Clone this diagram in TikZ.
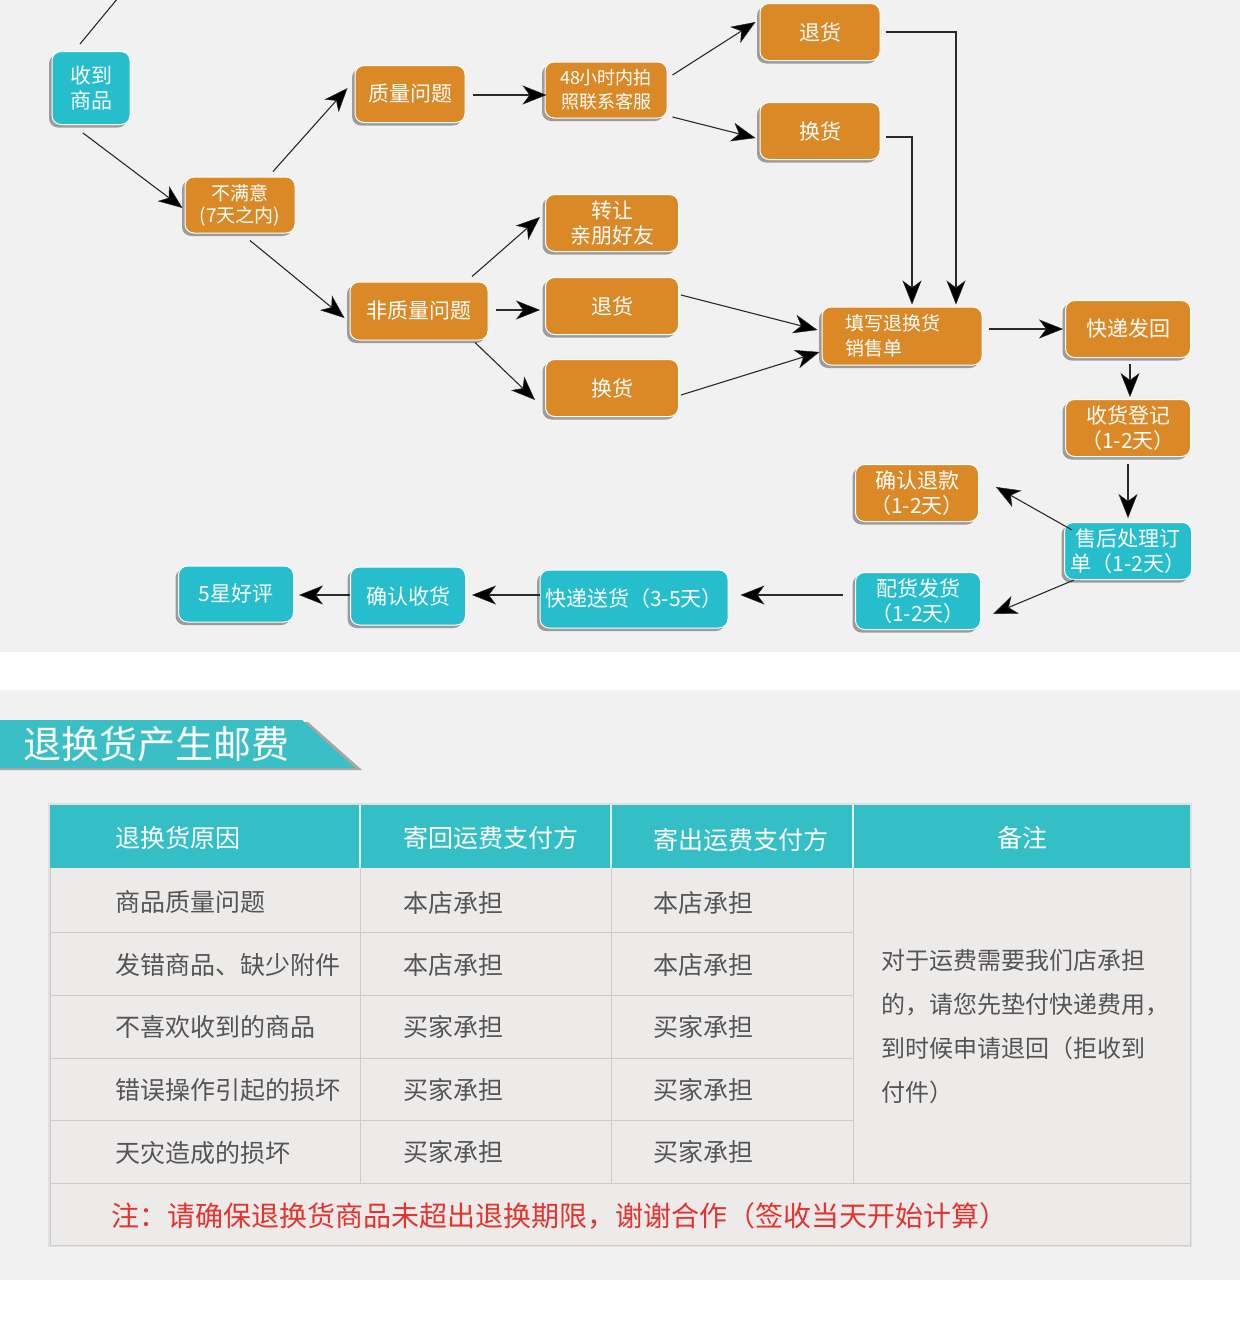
\documentclass[tikz,border=0pt]{standalone}
\usepackage{fontspec}
\setmainfont{Noto Sans CJK SC}
\usetikzlibrary{arrows.meta,shadows}
\definecolor{orangebox}{HTML}{DA8926}
\definecolor{cyanbox}{HTML}{26BECC}
\definecolor{hdrcol}{HTML}{34BEC6}
\definecolor{bannercol}{HTML}{3BBFC6}
\definecolor{bodycol}{HTML}{EDEAEA}
\definecolor{gridcol}{HTML}{CCCCCC}
\definecolor{txtgray}{HTML}{555555}
\definecolor{notered}{HTML}{E3342F}
\definecolor{panelcol}{HTML}{F1F1F1}
\definecolor{linecol}{HTML}{2A2A2A}
\begin{document}
\begin{tikzpicture}[x=1pt,y=-1pt,
  flowbox/.style={rounded corners=9pt, draw=white, line width=1pt, text=white,
    align=center, inner sep=2pt, minimum height=57pt,
    font=\fontsize{21}{25}\selectfont,
    drop shadow={shadow xshift=-3pt, shadow yshift=-3pt, fill=black, opacity=0.35}},
  obox/.style={flowbox, fill=orangebox},
  cbox/.style={flowbox, fill=cyanbox},
  arr/.style={draw=linecol, line width=1.1pt, -{Stealth[length=24pt,width=19pt,inset=7pt,fill=black,line width=0.5pt]}},
  plain/.style={draw=linecol, line width=1.1pt},
  celltxt/.style={text=txtgray, font=\fontsize{25}{28}\selectfont, anchor=west},
  hdrtxt/.style={text=white, font=\fontsize{25}{28}\selectfont},
  gridline/.style={draw=gridcol, line width=1pt}
]
\useasboundingbox (0,0) rectangle (1240,1336);
\fill[white] (0,0) rectangle (1240,1336);
% panels
\fill[panelcol] (0,0) rectangle (1240,652);
\fill[panelcol] (0,690) rectangle (1240,1280);

% ---------- flow nodes ----------
\node[cbox, minimum width=78pt, minimum height=73pt] (recv) at (91,88) {收到\\商品};
\node[obox, minimum width=110pt, minimum height=56pt, font=\fontsize{19}{22}\selectfont] (buman) at (240,205) {不满意\\(7天之内)};
\node[obox, minimum width=110pt] (zl) at (410,94) {质量问题};
\node[obox, minimum width=122pt, minimum height=56pt, font=\fontsize{18}{24}\selectfont] (h48) at (606,90) {48小时内拍\\照联系客服};
\node[obox, minimum width=120pt] (th1) at (820,32) {退货};
\node[obox, minimum width=120pt] (hh1) at (820,131) {换货};
\node[obox, minimum width=160pt, minimum height=58pt, align=left, font=\fontsize{19}{25}\selectfont] (tx) at (902,336) {填写退换货\\销售单\hspace*{2.9em}};
\node[obox, minimum width=138pt, minimum height=58pt] (fzl) at (419,311) {非质量问题};
\node[obox, minimum width=133pt] (zr) at (612,223) {转让\\亲朋好友};
\node[obox, minimum width=133pt] (th2) at (612,306) {退货};
\node[obox, minimum width=133pt] (hh2) at (612,388) {换货};
\node[obox, minimum width=125pt] (kdfh) at (1128,329) {快递发回};
\node[obox, minimum width=125pt] (shdj) at (1128,428) {收货登记\\（1-2天）};
\node[cbox, minimum width=127pt] (shcl) at (1128,551) {售后处理订\\单（1-2天）};
\node[obox, minimum width=123pt] (qrtk) at (917,493) {确认退款\\（1-2天）};
\node[cbox, minimum width=125pt] (phfh) at (918,601) {配货发货\\（1-2天）};
\node[cbox, minimum width=188pt, minimum height=58pt] (kdsh) at (634,599) {快递送货（3-5天）};
\node[cbox, minimum width=115pt, minimum height=58pt] (qrsh) at (408,596) {确认收货};
\node[cbox, minimum width=115pt, minimum height=56pt] (wxhp) at (236,594) {5星好评};

% ---------- connectors ----------
\coordinate (topout) at (118,-2);
\draw[plain] ([shift={(-11,-7)}]recv.north) -- (topout);
\draw[arr] ([shift={(-8,8)}]recv.south) -- ([shift={(-2,3)}]buman.west);
\draw[arr] ([shift={(33,-5)}]buman.north) -- ([shift={(-7,-6)}]zl.west);
\draw[arr] ([shift={(7,1)}]zl.east) -- ([shift={(2,5)}]h48.west);
\draw[arr] ([shift={(5,-15)}]h48.east) -- ([shift={(-4,-10)}]th1.west);
\draw[arr] ([shift={(5,27)}]h48.east) -- ([shift={(-4,7)}]hh1.west);
\draw[arr] ([xshift=5]th1.east) -| ([shift={(54,-2)}]tx.north);
\draw[arr] ([shift={(5,6)}]hh1.east) -| ([shift={(10,-2)}]tx.north);
\draw[arr] ([shift={(10,7)}]buman.south) -- ([shift={(-5,7)}]fzl.west);
\draw[arr] ([shift={(53,-5)}]fzl.north) -- ([shift={(-5,-6)}]zr.west);
\draw[arr] ([shift={(7,-1)}]fzl.east) -- ([shift={(-5,4)}]th2.west);
\draw[arr] ([shift={(56,2)}]fzl.south) -- ([shift={(-10,12)}]hh2.west);
\draw[arr] ([shift={(2,-11)}]th2.east) -- ([shift={(-4,-6)}]tx.west);
\draw[arr] ([shift={(2,7)}]hh2.east) -- ([shift={(-2,16)}]tx.west);
\draw[arr] ([shift={(6,-7)}]tx.east) -- ([shift={(-2,0)}]kdfh.west);
\draw[arr] ([shift={(2,6)}]kdfh.south) -- ([shift={(2,-2)}]shdj.north);
\draw[arr] ([shift={(0,7)}]shdj.south) -- ([shift={(0,-4)}]shcl.north);
\draw[arr] ([shift={(8,-21)}]shcl.west) -- ([shift={(17,-6)}]qrtk.east);
\draw[arr] ([shift={(10,0)}]shcl.south west) -- ([shift={(12,13)}]phfh.east);
\draw[arr] ([shift={(-12,-6)}]phfh.west) -- ([shift={(12,-4)}]kdsh.east);
\draw[arr] ([shift={(0,-4)}]kdsh.west) -- ([shift={(6,-1)}]qrsh.east);
\draw[arr] ([shift={(0,-1)}]qrsh.west) -- ([shift={(5,1)}]wxhp.east);

% ---------- banner ----------
\fill[gray!70] (0,722) -- (308,722) -- (362,770) -- (0,770) -- cycle;
\fill[bannercol] (0,720) -- (302,720) -- (355,768) -- (0,768) -- cycle;
\node[anchor=west, text=white, font=\fontsize{38}{40}\selectfont] (bannertxt) at (20,744) {退换货产生邮费};

% ---------- table ----------
\fill[black!12] (48,803) rectangle (1192,1247);
\fill[hdrcol] (50,805) rectangle (1190,868);
\fill[bodycol] (50,868) rectangle (1190,1245);
\foreach \yy in {932,995,1058,1120} {\draw[gridline] (50,\yy) -- (853,\yy);}
\draw[gridline] (50,1183) -- (1190,1183);
\foreach \xx in {360,611,853} {\draw[gridline] (\xx,868) -- (\xx,1183);}
\foreach \xx in {360,611,853} {\draw[draw=white!85!hdrcol, line width=1.5pt] (\xx,805) -- (\xx,868);}
\draw[gridline] (50,868) -- (50,1245) -- (1190,1245) -- (1190,868);

\node[hdrtxt, anchor=west] (h1) at (112,838) {退换货原因};
\node[hdrtxt, anchor=west] (h2) at (400,838) {寄回运费支付方};
\node[hdrtxt, anchor=west] (h3) at (650,840) {寄出运费支付方};
\node[hdrtxt] (h4) at (1022,838) {备注};

\node[celltxt] (r1a) at (112,902) {商品质量问题};
\node[celltxt] (r1b) at (400,903) {本店承担};
\node[celltxt] (r1c) at (650,903) {本店承担};
\node[celltxt] (r2a) at (112,965) {发错商品、缺少附件};
\node[celltxt] (r2b) at (400,965) {本店承担};
\node[celltxt] (r2c) at (650,965) {本店承担};
\node[celltxt] (r3a) at (112,1027) {不喜欢收到的商品};
\node[celltxt] (r3b) at (400,1027) {买家承担};
\node[celltxt] (r3c) at (650,1027) {买家承担};
\node[celltxt] (r4a) at (112,1090) {错误操作引起的损坏};
\node[celltxt] (r4b) at (400,1090) {买家承担};
\node[celltxt] (r4c) at (650,1090) {买家承担};
\node[celltxt] (r5a) at (112,1153) {天灾造成的损坏};
\node[celltxt] (r5b) at (400,1152) {买家承担};
\node[celltxt] (r5c) at (650,1152) {买家承担};
\node[celltxt, align=left, font=\fontsize{24}{44}\selectfont] (remark) at (878,1027)
  {对于运费需要我们店承担\\的，请您先垫付快递费用，\\到时候申请退回（拒收到\\付件）};
\node[anchor=west, text=notered, font=\fontsize{28}{30}\selectfont] (note) at (108,1216)
  {注：请确保退换货商品未超出退换期限，谢谢合作（签收当天开始计算）};
\end{tikzpicture}
\end{document}
